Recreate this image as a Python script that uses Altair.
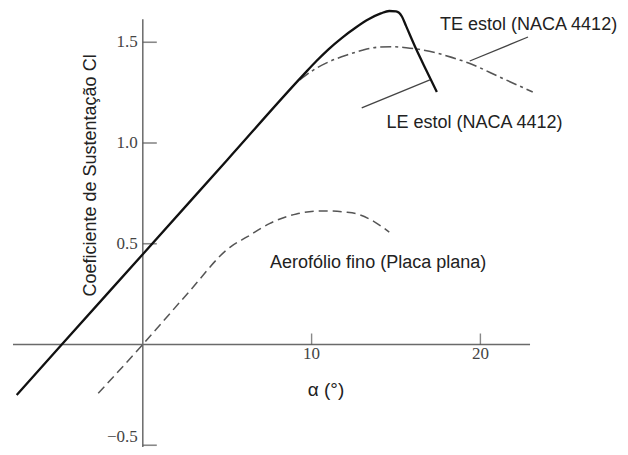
import altair as alt
import pandas as pd

# ---- data ----
# NACA 4412 lift curve (solid, leading-edge stall)
le_alpha = [-7.47, -4.80, 0.0, 5.0, 9.5, 10.3, 11.0, 11.8, 12.6, 13.4, 14.1, 14.6, 15.0, 15.35, 15.6, 16.2, 16.8, 17.42]
le_cl    = [-0.251, 0.0, 0.448, 0.916, 1.337, 1.408, 1.465, 1.522, 1.572, 1.615, 1.643, 1.655, 1.653, 1.628, 1.580, 1.465, 1.360, 1.253]

# NACA 4412 trailing-edge stall (dash-dot)
te_alpha = [9.3, 10.1, 11.0, 12.1, 13.0, 14.0, 14.8, 15.6, 16.2, 17.4, 18.3, 19.3, 21.2, 23.1]
te_cl    = [1.313, 1.362, 1.402, 1.437, 1.460, 1.476, 1.478, 1.473, 1.467, 1.447, 1.425, 1.397, 1.325, 1.253]

# thin airfoil / flat plate (dashed)
fp_alpha = [-2.64, 0.0, 2.6, 5.2, 6.2, 7.5, 9.1, 10.7, 12.0, 12.7, 13.7, 14.6]
fp_cl    = [-0.242, 0.0, 0.248, 0.485, 0.535, 0.600, 0.648, 0.663, 0.657, 0.648, 0.610, 0.558]

# axis ticks / labels
y_ticks = [0.5, 1.0, 1.5]
y_tick_labels = ["0.5", "1.0", "1.5"]
y_low_tick = [-0.5]
y_low_label = ["\u22120.5"]
x_ticks = [10, 20]
x_tick_labels = ["10", "20"]

# axis line extents
x_axis_span = [-7.69, 22.94]
y_axis_span = [-0.56, 1.614]

# annotations
ann_text = ["TE estol (NACA 4412)", "LE estol (NACA 4412)", "Aerofólio fino (Placa plana)"]
ann_x = [17.61, 14.43, 7.54]
ann_y = [1.586, 1.098, 0.405]
leader_x = [19.37, 12.97]
leader_y = [1.407, 1.174]
leader_x2 = [22.82, 17.01]
leader_y2 = [1.526, 1.313]

x_title = "α (°)"
x_title_pos = (10.85, -0.226)
y_title = "Coeficiente de Sustentação Cl"
y_title_pos = (-3.07, 0.839)

# ---- scales ----
xs = alt.Scale(domain=[-7.986, 28.270], nice=False, zero=False)
ys = alt.Scale(domain=[-0.5087, 1.670], nice=False, zero=False)
X = lambda f: alt.X(f, type="quantitative", scale=xs, axis=None)
Y = lambda f: alt.Y(f, type="quantitative", scale=ys, axis=None)

axis_color = "#6a6a6a"

xaxis_df = pd.DataFrame({"x": [x_axis_span[0]], "x2": [x_axis_span[1]], "y": [0.0]})
yaxis_df = pd.DataFrame({"x": [0.0], "y": [y_axis_span[0]], "y2": [y_axis_span[1]]})

xaxis = alt.Chart(xaxis_df).mark_rule(color=axis_color, strokeWidth=1.5).encode(
    x=X("x"), x2="x2", y=Y("y"))
yaxis = alt.Chart(yaxis_df).mark_rule(color=axis_color, strokeWidth=1.5).encode(
    x=X("x"), y=Y("y"), y2="y2")

yt_df = pd.DataFrame({"x": [0.0] * len(y_ticks), "y": y_ticks, "label": y_tick_labels})
ylow_df = pd.DataFrame({"x": [0.0], "y": y_low_tick, "label": y_low_label})
xt_df = pd.DataFrame({"x": x_ticks, "y": [0.0] * len(x_ticks), "label": x_tick_labels})

yticks = alt.Chart(pd.concat([yt_df, ylow_df])).mark_tick(
    orient="horizontal", size=14, thickness=1.6, xOffset=7, color="#555555").encode(x=X("x"), y=Y("y"))
xticks = alt.Chart(xt_df).mark_tick(orient="vertical", size=11, thickness=1.4,
                                    yOffset=-5.5, color="#555555").encode(x=X("x"), y=Y("y"))

ylabels = alt.Chart(yt_df).mark_text(align="right", baseline="middle", dx=-5,
                                     font="Liberation Serif", fontSize=17, color="#444444").encode(
    x=X("x"), y=Y("y"), text="label")
ylow_label = alt.Chart(ylow_df).mark_text(align="right", baseline="bottom", dx=-5, dy=1,
                                          font="Liberation Serif", fontSize=17, color="#444444").encode(
    x=X("x"), y=Y("y"), text="label")
xlabels = alt.Chart(xt_df).mark_text(align="center", baseline="middle", dy=10,
                                     font="Liberation Serif", fontSize=17, color="#444444").encode(
    x=X("x"), y=Y("y"), text="label")

le_df = pd.DataFrame({"a": le_alpha, "cl": le_cl})
te_df = pd.DataFrame({"a": te_alpha, "cl": te_cl})
fp_df = pd.DataFrame({"a": fp_alpha, "cl": fp_cl})

le_line = alt.Chart(le_df).mark_line(color="#111111", strokeWidth=2.3, interpolate="monotone").encode(
    x=X("a"), y=Y("cl"), order="a:Q")
te_line = alt.Chart(te_df).mark_line(color="#555555", strokeWidth=1.6, interpolate="monotone",
                                     strokeDash=[11, 4, 3, 4]).encode(
    x=X("a"), y=Y("cl"), order="a:Q")
fp_line = alt.Chart(fp_df).mark_line(color="#555555", strokeWidth=1.5, interpolate="monotone",
                                     strokeDash=[9, 5]).encode(
    x=X("a"), y=Y("cl"), order="a:Q")

lead_df = pd.DataFrame({"x": leader_x, "y": leader_y, "x2": leader_x2, "y2": leader_y2})
leaders = alt.Chart(lead_df).mark_rule(color="#444444", strokeWidth=1.3).encode(
    x=X("x"), y=Y("y"), x2="x2", y2="y2")

ann_df = pd.DataFrame({"x": ann_x, "y": ann_y, "t": ann_text})
ann = alt.Chart(ann_df).mark_text(align="left", baseline="middle", font="Liberation Sans",
                                  fontSize=18, color="#222222").encode(
    x=X("x"), y=Y("y"), text="t")

xt_title_df = pd.DataFrame({"x": [x_title_pos[0]], "y": [x_title_pos[1]], "t": [x_title]})
yt_title_df = pd.DataFrame({"x": [y_title_pos[0]], "y": [y_title_pos[1]], "t": [y_title]})
xtitle = alt.Chart(xt_title_df).mark_text(align="center", baseline="middle", font="Liberation Sans",
                                          fontSize=19, color="#222222").encode(
    x=X("x"), y=Y("y"), text="t")
ytitle = alt.Chart(yt_title_df).mark_text(align="center", baseline="middle", angle=270,
                                          font="Liberation Sans", fontSize=18, color="#222222").encode(
    x=X("x"), y=Y("y"), text="t")

chart = alt.layer(
    xaxis, yaxis, yticks, xticks, ylabels, ylow_label, xlabels,
    fp_line, te_line, le_line, leaders, ann, xtitle, ytitle
).properties(
    width=612, height=439, padding=0,
    autosize=alt.AutoSizeParams(type="none"),
    background="white"
).configure_view(stroke=None)

chart.save("out.html", embed_options={"renderer": "svg", "actions": False})
